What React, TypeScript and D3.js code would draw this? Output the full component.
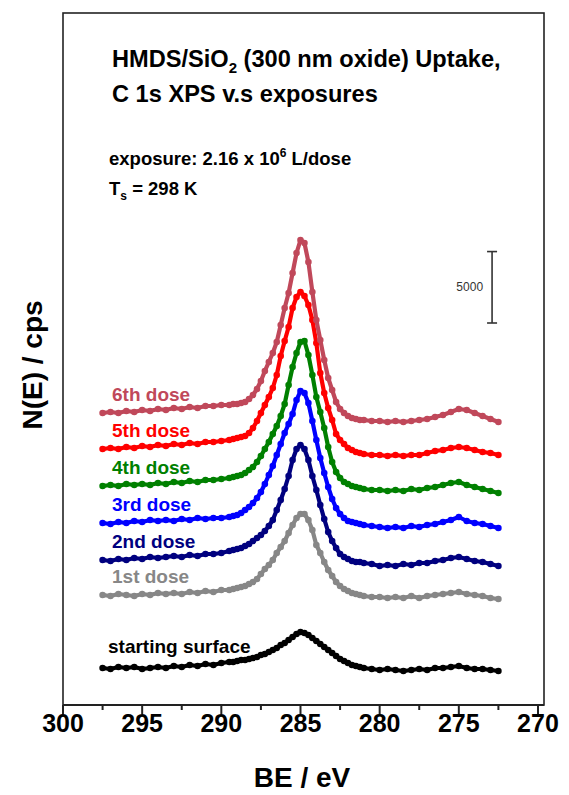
import React from 'react';
import * as d3 from 'd3';

// Binding energy grid (eV)
const BE: number[] = [
  297.5, 297, 296.5, 296, 295.5, 295, 294.5, 294, 293.5, 293, 292.5, 292, 291.5, 291, 290.5, 290, 289.5,
  289.25, 289, 288.75, 288.5, 288.25, 288, 287.75, 287.5, 287.25, 287, 286.75, 286.5, 286.25, 286, 285.75, 285.5,
  285.25, 285, 284.75, 284.5, 284.25, 284, 283.75, 283.5, 283.25, 283, 282.75, 282.5, 282.25, 282, 281.75, 281.5, 281.25, 281,
  280.5, 280, 279.5, 279, 278.5, 278, 277.5, 277, 276.5, 276, 275.5, 275, 274.5, 274, 273.5, 273, 272.5,
];

// N(E) in cps (stacked as plotted)
const startingSurface: number[] = [
  2590, 2520, 2660, 2590, 2660, 2520, 2590, 2660, 2590, 2730, 2660, 2800, 2730, 2870, 2800, 2940, 3010,
  3010, 3080, 3150, 3150, 3220, 3290, 3360, 3500, 3570, 3710, 3850, 3990, 4200, 4340, 4550, 4760, 4970, 5110, 5040, 4900, 4690, 4480, 4270, 4060, 3850, 3640, 3430, 3220, 3080, 2940, 2800, 2730, 2660, 2590,
  2520, 2450, 2520, 2450, 2380, 2450, 2520, 2450, 2590, 2590, 2660, 2730, 2590, 2520, 2520, 2450, 2380,
];
const dose1: number[] = [
  7700, 7630, 7770, 7700, 7630, 7770, 7700, 7840, 7770, 7840, 7770, 7910, 7840, 7980, 7910, 8050, 8050,
  8120, 8190, 8260, 8330, 8470, 8610, 8820, 9170, 9520, 9800, 10150, 10640, 11060, 11480, 12040, 12600, 13090, 13370, 13370, 12950, 12250, 11200, 10640, 10010, 9450, 9030, 8610, 8330, 8120, 7980, 7840, 7770, 7700, 7630,
  7560, 7560, 7490, 7560, 7490, 7630, 7490, 7630, 7700, 7770, 7840, 7910, 7770, 7700, 7630, 7490, 7420,
];
const dose2: number[] = [
  10150, 10080, 10220, 10150, 10290, 10220, 10360, 10290, 10360, 10430, 10360, 10500, 10430, 10570, 10570, 10640, 10780,
  10850, 10920, 10990, 11130, 11270, 11480, 11690, 11900, 12180, 12530, 12950, 13650, 14350, 15120, 16030, 17150, 17920, 18200, 17920, 17150, 16030, 15050, 14000, 13020, 12110, 11480, 10990, 10570, 10360, 10220, 10080, 10010, 10010, 9940,
  9870, 9730, 9800, 9730, 9870, 9800, 9940, 9940, 10080, 10150, 10290, 10360, 10220, 10080, 10010, 9870, 9730,
];
const dose3: number[] = [
  12740, 12670, 12810, 12740, 12880, 12810, 12950, 12880, 12950, 12880, 13020, 12950, 13090, 13020, 13090, 13090, 13160,
  13230, 13300, 13440, 13650, 13860, 14140, 14490, 14910, 15470, 16100, 16730, 17500, 18270, 19040, 19670, 20370, 21350, 21980, 21840, 21140, 19880, 18550, 17290, 16240, 15260, 14420, 13790, 13370, 13090, 12880, 12810, 12740, 12670, 12600,
  12530, 12460, 12390, 12460, 12390, 12530, 12460, 12600, 12670, 12810, 12950, 13160, 12880, 12740, 12670, 12530, 12390,
];
const dose4: number[] = [
  15330, 15400, 15330, 15470, 15400, 15470, 15400, 15540, 15470, 15610, 15540, 15680, 15610, 15750, 15750, 15820, 15890,
  15960, 16030, 16100, 16240, 16450, 16660, 17010, 17430, 17920, 18410, 18970, 19530, 20230, 21070, 22400, 23660, 24640, 25410, 25480, 24500, 23100, 21560, 20510, 19390, 18060, 17010, 16310, 15890, 15610, 15470, 15330, 15260, 15190, 15120,
  15050, 15050, 14980, 15050, 14980, 15120, 15050, 15190, 15260, 15400, 15540, 15610, 15400, 15260, 15120, 14980, 14840,
];
const dose5: number[] = [
  17920, 17990, 17920, 18060, 17990, 18130, 18060, 18200, 18130, 18270, 18200, 18340, 18270, 18410, 18410, 18480, 18550,
  18620, 18690, 18760, 18830, 19040, 19390, 19880, 20440, 21000, 21560, 22190, 23100, 24430, 25480, 26460, 27790, 28560, 28910, 28630, 28000, 26950, 25340, 23240, 21840, 20790, 19950, 18970, 18550, 18270, 17990, 17850, 17710, 17640, 17570,
  17500, 17500, 17430, 17500, 17430, 17500, 17500, 17640, 17780, 17850, 17990, 18060, 17990, 17850, 17710, 17640, 17500,
];
const dose6: number[] = [
  20440, 20510, 20440, 20580, 20510, 20650, 20580, 20720, 20650, 20790, 20720, 20860, 20790, 20930, 20930, 21000, 21000,
  21070, 21070, 21140, 21210, 21420, 21700, 22120, 22680, 23380, 24010, 24640, 25410, 26600, 27790, 28840, 30240, 31640, 32550, 32340, 31010, 28910, 26950, 25550, 24150, 22890, 22050, 21210, 20720, 20440, 20230, 20090, 20020, 19950, 19950,
  19880, 19880, 19810, 19880, 19810, 19880, 19950, 20020, 20160, 20300, 20510, 20720, 20650, 20440, 20230, 20020, 19810,
];

const SERIES: number[][] = [startingSurface, dose1, dose2, dose3, dose4, dose5, dose6];
const SERIES_NAMES: string[] = ['starting surface', '1st dose', '2nd dose', '3rd dose', '4th dose', '5th dose', '6th dose'];
const COLORS: string[] = ['#000000', '#878787', '#00007f', '#0000ff', '#008000', '#ff0000', '#c0485a'];

const X_TICKS: number[] = [300, 295, 290, 285, 280, 275, 270];
const X_MINOR: number[] = [297.5, 292.5, 287.5, 282.5, 277.5, 272.5];
const SCALE_BAR_VALUE = 5000;
const SCALE_BAR_BASE = 26740;
const SCALE_BAR_BE = 272.9;

const FONT = "'Liberation Sans', Arial, sans-serif";

export default function App() {
  const W = 569;
  const H = 795;
  const left = 63, right = 544, top = 13, bottom = 705;
  const x = d3.scaleLinear().domain([300, 269.62]).range([left, right]);
  const y = d3.scaleLinear().domain([0, 48440]).range([bottom, top]);
  const line = d3.line<number>().x((_, i) => x(BE[i])).y((d) => y(d));

  const sbX = x(SCALE_BAR_BE);
  const sbY0 = y(SCALE_BAR_BASE);
  const sbY1 = y(SCALE_BAR_BASE + SCALE_BAR_VALUE);

  return (
    <svg width={W} height={H} style={{ position: 'absolute', left: 0, top: 0, background: '#fff' }} fontFamily={FONT}>
      <rect x={0} y={0} width={W} height={H} fill="#fff" />
      {/* frame */}
      <rect x={left} y={top} width={right - left} height={bottom - top} fill="none" stroke="#222" strokeWidth={1.6} />
      <line x1={left} x2={right} y1={bottom} y2={bottom} stroke="#222" strokeWidth={2} />

      {/* series */}
      {SERIES.map((s, si) => (
        <g key={si}>
          <path d={line(s) || ''} fill="none" stroke={COLORS[si]} strokeWidth={4.2} strokeLinejoin="round" strokeLinecap="round" />
          {s.map((v, i) => (
            <circle key={i} cx={x(BE[i])} cy={y(v)} r={3.3} fill={COLORS[si]} />
          ))}
        </g>
      ))}

      {/* series labels */}
      {SERIES.map((s, si) => (
        <text
          key={'l' + si}
          x={si === 0 ? 108 : 112}
          y={y(s[0]) - (si === 0 ? 15 : 12)}
          fill={COLORS[si]}
          fontSize={19}
          fontWeight="bold"
        >
          {SERIES_NAMES[si]}
        </text>
      ))}

      {/* x ticks */}
      {X_TICKS.map((t) => (
        <g key={t}>
          <line x1={x(t)} x2={x(t)} y1={bottom} y2={bottom + 9} stroke="#222" strokeWidth={2} />
          <text x={x(t)} y={731.5} textAnchor="middle" fontSize={25} fontWeight="bold" fill="#000">
            {t}
          </text>
        </g>
      ))}
      {X_MINOR.map((t) => (
        <line key={'m' + t} x1={x(t)} x2={x(t)} y1={bottom} y2={bottom + 5} stroke="#222" strokeWidth={2} />
      ))}

      {/* axis titles */}
      <text x={302} y={787} textAnchor="middle" fontSize={28} fontWeight="bold">BE / eV</text>
      <text transform="translate(42,365) rotate(-90)" textAnchor="middle" fontSize={28} fontWeight="bold">N(E) / cps</text>

      {/* title */}
      <text x={112} y={67} fontSize={23.6} fontWeight="bold">
        HMDS/SiO<tspan fontSize={15} dy={6}>2</tspan><tspan dy={-6}> (300 nm oxide) Uptake,</tspan>
      </text>
      <text x={112} y={102} fontSize={23.6} fontWeight="bold">C 1s XPS v.s exposures</text>
      <text x={109} y={165} fontSize={18.5} fontWeight="bold">
        exposure: 2.16 x 10<tspan fontSize={12} dy={-8}>6</tspan><tspan dy={8}> L/dose</tspan>
      </text>
      <text x={109} y={195} fontSize={18.5} fontWeight="bold">
        T<tspan fontSize={12} dy={5}>s</tspan><tspan dy={-5}> = 298 K</tspan>
      </text>

      {/* scale bar */}
      <g stroke="#333" strokeWidth={1.6}>
        <line x1={sbX} x2={sbX} y1={sbY0} y2={sbY1} />
        <line x1={sbX - 5} x2={sbX + 5} y1={sbY0} y2={sbY0} />
        <line x1={sbX - 5} x2={sbX + 5} y1={sbY1} y2={sbY1} />
      </g>
      <text x={sbX - 9} y={(sbY0 + sbY1) / 2 + 4} textAnchor="end" fontSize={12} fill="#333">{SCALE_BAR_VALUE}</text>
    </svg>
  );
}
